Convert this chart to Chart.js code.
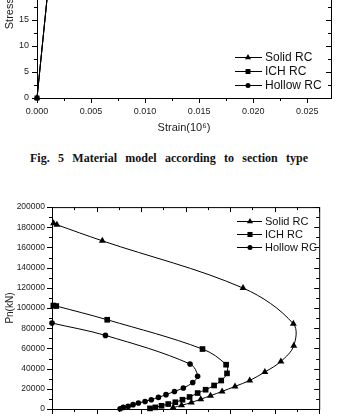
<!DOCTYPE html>
<html>
<head>
<meta charset="utf-8">
<script src="https://cdn.jsdelivr.net/npm/chart.js@4.4.0/dist/chart.umd.min.js"></script>
<style>
  html, body { margin: 0; padding: 0; background: #fff; overflow: hidden; width: 339px; height: 417px; }
  canvas { position: absolute; left: 0; }
  #cap {
    position: absolute; left: 30px; top: 151px; width: 278px;
    font: bold 12px "Liberation Serif", "Times New Roman", serif; line-height: 14px;
    color: #111; text-align: justify; text-align-last: justify;
  }
</style>
</head>
<body>
<canvas id="stressChart" width="339" height="254" style="top:-114px"></canvas>
<div id="cap">Fig. 5 Material model according to section type</div>
<canvas id="pmChart" width="339" height="256" style="top:195px"></canvas>
<script>
// Fig. 5 - material model (only the foot of the curves is on the page)
const strain = [0, 0.0015, 0.002, 0.0035];
const stressSolid = [0, 30.7, 34, 29];
const stressICH = [0, 30.7, 33.5, 28];
const stressHollow = [0, 30.7, 33, 27];

// P-M interaction curves
const mnSolid = [350, 1100, 11300, 42900, 54200, 54300, 51400, 47800, 44400, 41100, 38200, 35600, 33400, 31300, 29100, 27200];
const pnSolid = [184000, 182500, 166600, 119800, 84400, 62700, 47100, 36600, 28300, 22400, 17400, 13200, 9700, 6500, 3600, 1400];
const mnICH = [300, 950, 12400, 33800, 39100, 39300, 38000, 36400, 34500, 32700, 30900, 29300, 27700, 26100, 24600, 23200, 22000];
const pnICH = [102500, 102000, 88400, 59400, 43900, 35300, 28200, 23300, 19100, 15800, 11900, 9200, 6700, 4900, 3200, 1600, 600];
const mnHollow = [0, 12000, 31000, 32700, 31600, 29500, 27500, 25600, 23900, 22300, 20900, 19400, 18200, 17100, 16000, 15300];
const pnHollow = [85100, 72900, 44600, 32500, 26300, 20800, 17400, 14200, 11500, 9200, 7500, 5900, 4300, 2600, 1600, 300];

const seriesNames = ['Solid RC', 'ICH RC', 'Hollow RC'];
const markers = ['triangle', 'rect', 'circle'];

const FONT = '"Liberation Sans", Arial, sans-serif';

function pts(xs, ys) {
    return xs.map((v, i) => ({ x: v, y: ys[i] }));
}

// same shapes as Chart.js point styles, for the legend
function drawMarker(ctx, style, r, x, y) {
    ctx.beginPath();
    if (style === 'triangle') {
        ctx.moveTo(x, y - r);
        ctx.lineTo(x + r * 0.866, y + r * 0.5);
        ctx.lineTo(x - r * 0.866, y + r * 0.5);
        ctx.closePath();
    } else if (style === 'rect') {
        const s = r * Math.SQRT1_2;
        ctx.rect(x - s, y - s, 2 * s, 2 * s);
    } else {
        ctx.arc(x, y, r, 0, Math.PI * 2);
    }
    ctx.fill();
}

// box frame plus major/minor ticks: outward on left/bottom, inward on top/right
const frameTicks = {
    id: 'frameTicks',
    afterDraw(chart, args, o) {
        const { ctx, chartArea: a, scales: { x, y } } = chart;
        ctx.save();
        ctx.strokeStyle = '#000';
        ctx.lineWidth = 1;
        ctx.strokeRect(a.left + 0.5, a.top + 0.5, a.right - a.left, a.bottom - a.top);
        ctx.beginPath();
        const nx = Math.floor((x.max - x.min) / o.xMinor + 1e-6);
        for (let k = 0; k <= nx; k++) {
            const px = Math.round(x.getPixelForValue(x.min + k * o.xMinor)) + 0.5;
            const len = k % 2 === 0 ? 5 : 3;
            ctx.moveTo(px, a.bottom); ctx.lineTo(px, a.bottom + len);
            ctx.moveTo(px, a.top); ctx.lineTo(px, a.top + len);
        }
        const ny = Math.floor((y.max - y.min) / o.yMinor + 1e-6);
        for (let k = 0; k <= ny; k++) {
            const py = Math.round(y.getPixelForValue(y.min + k * o.yMinor)) + 0.5;
            const len = k % 2 === 0 ? 5 : 3;
            ctx.moveTo(a.left, py); ctx.lineTo(a.left - len, py);
            ctx.moveTo(a.right, py); ctx.lineTo(a.right - len, py);
        }
        ctx.stroke();
        ctx.restore();
    }
};

// legend in the Origin style: short line with the marker in the middle
const lineLegend = {
    id: 'lineLegend',
    afterDraw(chart, args, o) {
        const ctx = chart.ctx;
        ctx.save();
        ctx.font = o.font;
        ctx.textBaseline = 'middle';
        chart.data.datasets.forEach((ds, i) => {
            const y = o.rows[i];
            ctx.strokeStyle = '#000';
            ctx.lineWidth = 1;
            ctx.beginPath();
            ctx.moveTo(o.x0, y + 0.5);
            ctx.lineTo(o.x1, y + 0.5);
            ctx.stroke();
            ctx.fillStyle = '#000';
            drawMarker(ctx, ds.pointStyle, ds.pointRadius * o.scale, o.xm, y + 0.5);
            ctx.fillStyle = '#111';
            ctx.fillText(ds.label, o.xt, y + 1);
        });
        ctx.restore();
    }
};

function makeSets(data, radius, tension) {
    return seriesNames.map((name, i) => ({
        label: name,
        data: data[i],
        showLine: true,
        borderColor: '#000',
        backgroundColor: '#000',
        borderWidth: 1,
        pointStyle: markers[i],
        pointRadius: radius[i],
        pointBorderWidth: 0,
        tension: tension,
        clip: false
    }));
}

const tickFont = size => ({ family: FONT, size: size });

// ---- Fig. 5 stress-strain ----
const off1 = 114; // canvas sits 114px above the page top
new Chart(document.getElementById('stressChart'), {
    type: 'scatter',
    data: {
        datasets: makeSets([
            pts(strain, stressSolid),
            pts(strain, stressICH),
            pts(strain, stressHollow)
        ], [3.5, 3.5, 2.5], 0)
    },
    options: {
        responsive: false,
        animation: false,
        layout: { padding: { top: 10, right: 8, left: 0, bottom: 0 } },
        plugins: {
            legend: { display: false },
            tooltip: { enabled: false },
            frameTicks: { xMinor: 0.0025, yMinor: 2.5 },
            lineLegend: { x0: 235, x1: 262, xm: 248, xt: 265, rows: [57 + off1, 71 + off1, 85 + off1], font: '12px ' + FONT, scale: 1 }
        },
        scales: {
            x: {
                type: 'linear', min: 0, max: 0.0272,
                afterFit: s => { s.height = 42; },
                grid: { display: true, drawOnChartArea: false, drawTicks: false },
                border: { display: false },
                ticks: {
                    stepSize: 0.005, includeBounds: false, autoSkip: false, maxRotation: 0,
                    padding: 8, color: '#222', font: tickFont(9),
                    callback: v => v.toFixed(3)
                },
                title: { display: true, text: 'Strain(10\u2076)', color: '#222', font: tickFont(11), padding: { top: 0, bottom: 5 } }
            },
            y: {
                type: 'linear', min: 0, max: 38,
                afterFit: s => { s.width = 37; },
                grid: { display: true, drawOnChartArea: false, drawTicks: false },
                border: { display: false },
                ticks: { stepSize: 5, includeBounds: false, autoSkip: false, padding: 8, color: '#222', font: tickFont(9), callback: v => String(v) },
                title: { display: true, text: 'Stress(MPa)', color: '#222', font: tickFont(11), padding: { top: 3, bottom: 0 } }
            }
        }
    },
    plugins: [frameTicks, lineLegend]
});

// ---- P-M interaction diagram ----
const off2 = -195;
new Chart(document.getElementById('pmChart'), {
    type: 'scatter',
    data: {
        datasets: makeSets([
            pts(mnSolid, pnSolid),
            pts(mnICH, pnICH),
            pts(mnHollow, pnHollow)
        ], [4, 4, 2.8], 0.35)
    },
    options: {
        responsive: false,
        animation: false,
        layout: { padding: { top: 12, right: 12, left: 0, bottom: 0 } },
        plugins: {
            legend: { display: false },
            tooltip: { enabled: false },
            frameTicks: { xMinor: 5000, yMinor: 10000 },
            lineLegend: { x0: 237, x1: 262, xm: 250, xt: 265, rows: [221 + off2, 234 + off2, 247 + off2], font: '11px ' + FONT, scale: 0.9 }
        },
        scales: {
            x: {
                type: 'linear', min: 0, max: 60000,
                afterFit: s => { s.height = 42; },
                grid: { display: true, drawOnChartArea: false, drawTicks: false },
                border: { display: false },
                ticks: { stepSize: 10000, includeBounds: false, autoSkip: false, maxRotation: 0, padding: 8, color: '#222', font: tickFont(8.5), callback: v => String(v) },
                title: { display: true, text: 'Mn(kN\u00b7m)', color: '#222', font: tickFont(10), padding: { top: 0, bottom: 5 } }
            },
            y: {
                type: 'linear', min: 0, max: 200000,
                afterFit: s => { s.width = 52; },
                grid: { display: true, drawOnChartArea: false, drawTicks: false },
                border: { display: false },
                ticks: { stepSize: 20000, includeBounds: false, autoSkip: false, padding: 7, color: '#222', font: tickFont(8.5), callback: v => String(v) },
                title: { display: true, text: 'Pn(kN)', color: '#222', font: tickFont(10), padding: { top: 4, bottom: 0 } }
            }
        }
    },
    plugins: [frameTicks, lineLegend]
});
</script>
</body>
</html>
